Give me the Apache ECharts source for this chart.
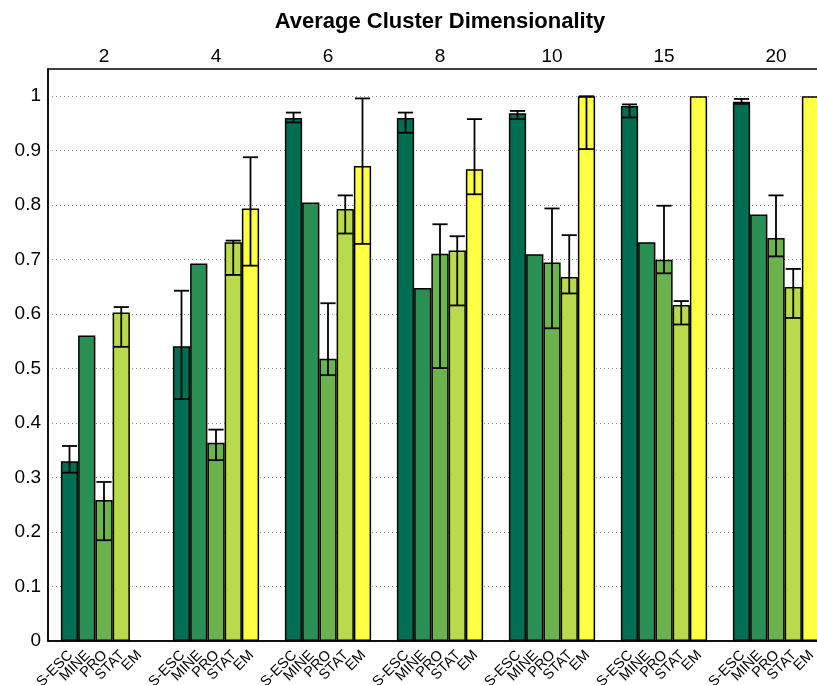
<!DOCTYPE html>
<html>
<head>
<meta charset="utf-8">
<script src="https://cdn.jsdelivr.net/npm/echarts@6/dist/echarts.min.js"></script>
<style>
  html, body { margin: 0; padding: 0; background: #fff; overflow: hidden; }
  /* the plot box runs a little past the right edge of the window */
  #chart { width: 832px; height: 685px; }
</style>
</head>
<body>
<div id="chart"></div>
<script>
// Average cluster dimensionality groups and the compared methods
const groups = ['2', '4', '6', '8', '10', '15', '20'];
const methods = ['S-ESC', 'MINE', 'PRO', 'STAT', 'EM'];
const yTicks = [0, 0.1, 0.2, 0.3, 0.4, 0.5, 0.6, 0.7, 0.8, 0.9, 1];

// Mean scores per method (one value per group)
const sescMean = [0.330, 0.541, 0.960, 0.960, 0.969, 0.982, 0.990];
const mineMean = [0.561, 0.693, 0.805, 0.648, 0.710, 0.732, 0.783];
const proMean  = [0.259, 0.364, 0.518, 0.711, 0.695, 0.700, 0.740];
const statMean = [0.603, 0.732, 0.793, 0.717, 0.668, 0.617, 0.650];
const emMean   = [null,  0.794, 0.872, 0.866, 1.000, 1.000, 1.000];

// Error bar ranges (lower / upper ends), null where no bar is drawn
const sescLow  = [0.309, 0.444, 0.952, 0.933, 0.958, 0.961, 0.986];
const sescHigh = [0.358, 0.643, 0.970, 0.970, 0.973, 0.985, 0.995];
const proLow   = [0.185, 0.332, 0.488, 0.501, 0.574, 0.675, 0.706];
const proHigh  = [0.292, 0.388, 0.620, 0.765, 0.794, 0.799, 0.818];
const statLow  = [0.540, 0.672, 0.748, 0.616, 0.638, 0.581, 0.593];
const statHigh = [0.613, 0.735, 0.818, 0.743, 0.745, 0.624, 0.683];
const emLow    = [null,  0.689, 0.729, 0.820, 0.903, null,  null];
const emHigh   = [null,  0.888, 0.996, 0.958, 1.000, null,  null];

const means = [sescMean, mineMean, proMean, statMean, emMean];
const lows  = [sescLow, null, proLow, statLow, emLow];
const highs = [sescHigh, null, proHigh, statHigh, emHigh];
const colors = ['#006e52', '#2b8e53', '#6ab34f', '#b9da4f', '#ffff44'];

const FONT = '"Liberation Sans", Arial, Helvetica, sans-serif';
const CATEGORY_GAP = 0.23;

function barWidth(api) {
  const band = api.size([1, 0])[0];
  return band * (1 - CATEGORY_GAP) / methods.length;
}

// error bar items: [group, method, low, high]
const errData = [];
methods.forEach((m, s) => {
  if (!lows[s]) return;
  groups.forEach((g, gi) => {
    if (lows[s][gi] != null) errData.push([gi, s, lows[s][gi], highs[s][gi]]);
  });
});

// rotated method names under every bar slot: [group, 0, method]
const labelData = [];
groups.forEach((g, gi) => methods.forEach((m, s) => labelData.push([gi, 0, s])));

const barSeries = methods.map((m, s) => ({
  type: 'bar',
  name: m,
  data: means[s].map(v => (v == null ? '-' : v)),
  barGap: '0%',
  barCategoryGap: (CATEGORY_GAP * 100) + '%',
  itemStyle: { color: colors[s], borderColor: '#000', borderWidth: 1.5 },
  silent: true
}));

const errorSeries = {
  type: 'custom',
  name: 'error',
  data: errData,
  encode: { x: 0, y: [2, 3] },
  z: 5,
  silent: true,
  renderItem(params, api) {
    const gi = api.value(0), s = api.value(1);
    const lo = api.coord([gi, api.value(2)]);
    const hi = api.coord([gi, api.value(3)]);
    const bw = barWidth(api);
    const x = lo[0] + (s - (methods.length - 1) / 2) * bw;
    const cap = bw * 0.44;
    const st = { stroke: '#000', lineWidth: 1.8 };
    return {
      type: 'group',
      children: [
        { type: 'line', shape: { x1: x, y1: lo[1], x2: x, y2: hi[1] }, style: st },
        { type: 'line', shape: { x1: x - cap, y1: lo[1], x2: x + cap, y2: lo[1] }, style: st },
        { type: 'line', shape: { x1: x - cap, y1: hi[1], x2: x + cap, y2: hi[1] }, style: st }
      ]
    };
  }
};

const labelSeries = {
  type: 'custom',
  name: 'methodLabels',
  data: labelData,
  encode: { x: 0, y: 1 },
  z: 6,
  silent: true,
  clip: false,
  renderItem(params, api) {
    const gi = api.value(0), s = api.value(2);
    const p = api.coord([gi, 0]);
    const bw = barWidth(api);
    const x = p[0] + (s - (methods.length - 1) / 2) * bw;
    return {
      type: 'text',
      x: x + 1,
      y: p[1] + 12,
      rotation: Math.PI / 4,
      style: {
        text: methods[s],
        font: '14.5px ' + FONT,
        fill: '#000',
        align: 'right',
        verticalAlign: 'middle'
      }
    };
  }
};

const chart = echarts.init(document.getElementById('chart'), null, { renderer: 'canvas' });
chart.setOption({
  animation: false,
  backgroundColor: '#fff',
  textStyle: { fontFamily: FONT },
  graphic: [{
    type: 'text',
    x: 440,
    y: 22,
    style: {
      text: 'Average Cluster Dimensionality',
      font: 'bold 22px ' + FONT,
      fill: '#000',
      align: 'center',
      verticalAlign: 'middle'
    }
  }],
  grid: {
    left: 48, top: 69, right: 0, bottom: 44,
    show: true, borderColor: '#000', borderWidth: 1.5, backgroundColor: 'transparent'
  },
  xAxis: {
    type: 'category',
    position: 'top',
    data: groups,
    axisTick: { show: false },
    axisLine: { show: true, lineStyle: { color: '#000', width: 1.5 } },
    axisLabel: { color: '#000', fontSize: 19, fontFamily: FONT, margin: 3 },
    splitLine: { show: false }
  },
  yAxis: {
    type: 'value',
    min: yTicks[0],
    max: 1.05,
    interval: 0.1,
    axisLine: { show: true, lineStyle: { color: '#000', width: 1.5 } },
    axisTick: { show: false },
    axisLabel: {
      color: '#000', fontSize: 19, fontFamily: FONT, margin: 7,
      formatter: v => (v > yTicks[yTicks.length - 1] + 1e-6 ? '' : String(+v.toFixed(2)))
    },
    splitLine: {
      show: true,
      showMinLine: false,
      showMaxLine: false,
      lineStyle: { color: '#888', width: 1, type: [1, 3] }
    }
  },
  series: [...barSeries, errorSeries, labelSeries]
});
</script>
</body>
</html>
